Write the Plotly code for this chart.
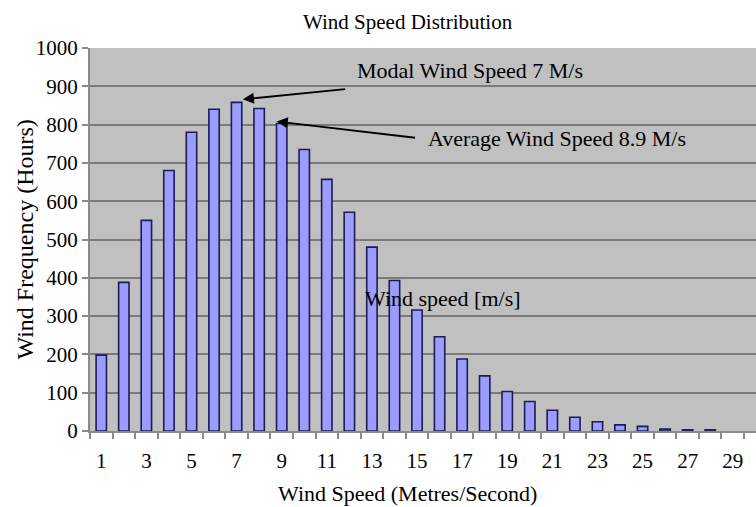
import plotly.graph_objects as go

speeds = list(range(1, 31))
hours = [198, 388, 550, 680, 780, 840, 858, 842, 803, 735, 657, 571, 480, 393,
         316, 246, 188, 144, 103, 77, 54, 36, 24, 16, 12, 5, 3, 3, None, None]
x_tick_labels = [str(v) for v in range(1, 30, 2)]
y_ticks = list(range(0, 1001, 100))

FONT = "Liberation Serif"

fig = go.Figure()
fig.add_trace(go.Bar(
    x=speeds, y=hours,
    marker=dict(color="#9c9cff", line=dict(color="#1c1c55", width=1.6)),
    width=0.46,
))

fig.update_layout(
    width=756, height=507,
    margin=dict(l=90, r=0, t=48, b=76),
    paper_bgcolor="white",
    plot_bgcolor="#c0c0c0",
    showlegend=False,
    font=dict(family=FONT, color="black", size=21),
    annotations=[
        dict(text="Wind Speed Distribution", xref="paper", yref="paper",
             x=0.477, y=1.0, yshift=26, yanchor="middle", showarrow=False,
             font=dict(size=21, family=FONT)),
        dict(text="Wind Speed (Metres/Second)", xref="paper", yref="paper",
             x=0.477, y=0, yshift=-62, yanchor="middle", showarrow=False,
             font=dict(size=22, family=FONT)),
        dict(text="Wind Frequency (Hours)", xref="paper", yref="paper",
             x=0, xshift=-66, xanchor="center", y=0.5, textangle=-90, showarrow=False,
             font=dict(size=24, family=FONT)),
        # arrows
        dict(x=7.28, y=866, ax=11.88, ay=893, xref="x", yref="y", axref="x", ayref="y",
             text="", showarrow=True, arrowhead=2, arrowsize=1.1, arrowwidth=2,
             arrowcolor="black"),
        dict(x=8.78, y=808, ax=14.98, ay=765, xref="x", yref="y", axref="x", ayref="y",
             text="", showarrow=True, arrowhead=2, arrowsize=1.1, arrowwidth=2,
             arrowcolor="black"),
        dict(text="Modal Wind Speed 7 M/s", x=12.24, y=942, xref="x", yref="y",
             xanchor="left", showarrow=False, font=dict(size=22, family=FONT)),
        dict(text="Average Wind Speed 8.9 M/s", x=15.38, y=765, xref="x", yref="y",
             xanchor="left", showarrow=False, font=dict(size=22, family=FONT)),
        dict(text="Wind speed [m/s]", x=12.59, y=347, xref="x", yref="y",
             xanchor="left", showarrow=False, font=dict(size=22, family=FONT)),
    ],
)

fig.update_xaxes(
    range=[0.5, 30.03], automargin=False,
    tickvals=list(range(1, 30, 2)), ticktext=x_tick_labels,
    ticks="", ticklen=0, ticklabelstandoff=10,
    showgrid=False, zeroline=False,
    showline=True, linecolor="#8a8a8a", linewidth=2,
    tickfont=dict(size=21, family=FONT),
    minor=dict(tickvals=[i + 0.5 for i in range(0, 30)], ticks="outside",
               ticklen=6, tickcolor="#8a8a8a", tickwidth=2, showgrid=False),
)
fig.update_yaxes(
    range=[0, 1000], automargin=False,
    tickvals=y_ticks,
    ticks="outside", ticklen=6, tickcolor="#8a8a8a", tickwidth=2,
    showgrid=True, gridcolor="#7a7a7a", gridwidth=2,
    zeroline=False,
    showline=True, linecolor="#8a8a8a", linewidth=2,
    tickfont=dict(size=21, family=FONT),
)

fig.write_html("out.html", config={"displayModeBar": False},
               post_script="document.body.style.margin='0';document.body.style.overflow='hidden';")
